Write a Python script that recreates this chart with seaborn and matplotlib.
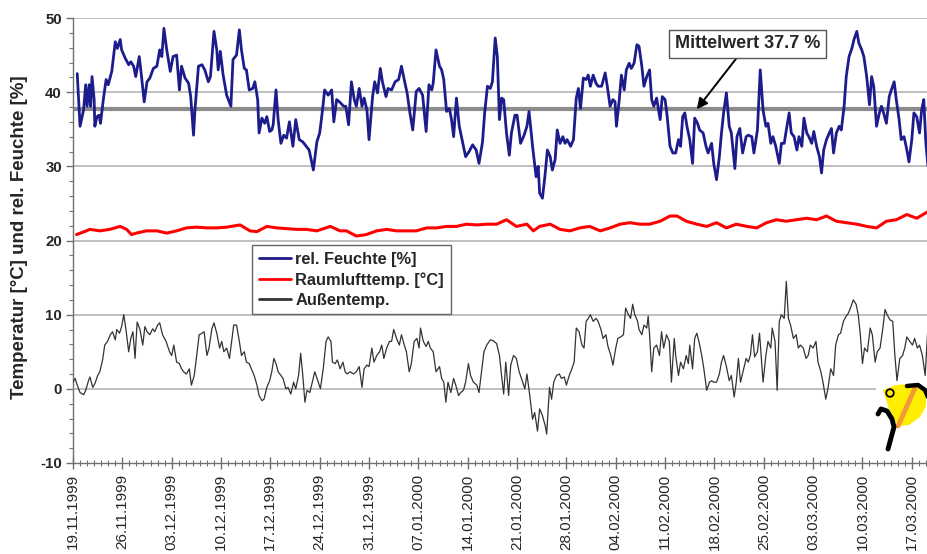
import numpy as np
import pandas as pd
import matplotlib
matplotlib.use("Agg")
import matplotlib.pyplot as plt
import matplotlib.dates as mdates
from matplotlib.ticker import MultipleLocator
from matplotlib.patches import Polygon, Circle, Rectangle
from matplotlib.lines import Line2D
from matplotlib.transforms import IdentityTransform
import seaborn as sns

# ---------------- data ----------------
start = pd.Timestamp("1999-11-19")
x_end_day = 121.3

feuchte_tag = [0.6, 1.0, 1.5, 1.8, 2.0, 2.3, 2.5, 2.7, 3.0, 3.1, 3.4, 3.7, 3.9, 4.3, 4.7, 5.0, 5.5, 6.0, 6.3, 6.7,
               6.9, 7.4, 7.9, 8.2, 8.6, 8.9, 9.4, 9.7, 10.1, 10.5, 10.9, 11.4, 11.9, 12.3, 12.6, 12.9, 13.3, 13.8, 14.2, 14.7,
               15.1, 15.4, 15.9, 16.4, 16.7, 17.1, 17.3, 17.8, 18.3, 18.7, 19.2, 19.5, 20.0, 20.4, 20.6, 20.9, 21.3, 21.8, 22.4, 22.7,
               23.2, 23.6, 23.9, 24.3, 24.6, 25.0, 25.5, 25.8, 26.2, 26.4, 26.8, 27.2, 27.5, 27.9, 28.2, 28.4, 28.8, 29.1, 29.5, 29.9,
               30.3, 30.7, 31.2, 31.6, 32.1, 32.6, 33.1, 33.5, 34.1, 34.6, 35.0, 35.4, 35.7, 36.2, 36.7, 37.0, 37.4, 37.8, 38.4, 38.7,
               39.1, 39.5, 39.9, 40.2, 40.6, 41.0, 41.3, 41.7, 42.0, 42.5, 42.8, 43.2, 43.6, 43.9, 44.4, 44.7, 45.2, 45.7, 46.2, 46.6,
               47.1, 47.4, 47.8, 48.2, 48.7, 49.1, 49.6, 50.1, 50.5, 50.9, 51.1, 51.5, 52.0, 52.3, 52.6, 53.0, 53.4, 53.7, 54.0, 54.4,
               54.8, 55.3, 55.7, 56.2, 56.7, 57.2, 57.6, 58.1, 58.4, 58.8, 59.2, 59.5, 59.9, 60.2, 60.5, 60.8, 61.1, 61.5, 61.9, 62.2,
               62.7, 63.0, 63.5, 64.0, 64.4, 64.7, 65.2, 65.7, 66.0, 66.2, 66.6, 67.0, 67.3, 67.7, 68.0, 68.4, 68.7, 69.1, 69.5, 69.8,
               70.1, 70.6, 71.0, 71.4, 71.7, 72.0, 72.4, 72.8, 73.1, 73.4, 73.8, 74.2, 74.5, 75.0, 75.5, 75.8, 76.2, 76.6, 76.9, 77.1,
               77.5, 77.8, 78.2, 78.5, 78.9, 79.2, 79.6, 80.0, 80.3, 80.7, 81.0, 81.4, 81.8, 82.1, 82.4, 82.8, 83.3, 83.6, 84.0, 84.3,
               84.7, 85.1, 85.5, 85.9, 86.2, 86.5, 86.8, 87.1, 87.5, 87.9, 88.2, 88.6, 88.9, 89.4, 89.8, 90.1, 90.6, 90.9, 91.3, 91.7,
               92.0, 92.3, 92.7, 93.1, 93.4, 93.9, 94.2, 94.6, 95.0, 95.5, 95.8, 96.3, 96.6, 97.1, 97.5, 97.9, 98.3, 98.6, 99.0, 99.3,
               99.7, 100.2, 100.5, 100.9, 101.2, 101.6, 101.9, 102.3, 102.7, 103.0, 103.4, 103.7, 104.1, 104.4, 104.8, 105.1, 105.5, 105.9, 106.2, 106.5,
               106.9, 107.3, 107.6, 107.9, 108.3, 108.7, 109.0, 109.4, 109.7, 110.1, 110.5, 110.8, 111.2, 111.5, 111.9, 112.2, 112.6, 113.0, 113.3, 113.6,
               114.0, 114.4, 114.7, 115.0, 115.4, 115.8, 116.1, 116.5, 116.8, 117.2, 117.5, 117.9, 118.3, 118.6, 119.0, 119.3, 119.7, 120.1, 120.4, 120.7,
               121.0, 121.3]
feuchte = [42.5, 35.4, 37.6, 41.0, 38.1, 41.0, 38.1, 42.1, 39.0, 35.4, 36.7, 36.9, 35.8, 39.0, 41.7, 41.0, 42.8, 46.8, 45.9, 47.1,
           45.7, 44.6, 43.7, 44.1, 43.5, 42.1, 44.8, 42.3, 38.7, 41.4, 41.9, 43.2, 43.5, 45.7, 44.8, 48.6, 45.7, 42.8, 44.8, 45.0,
           40.3, 43.5, 41.9, 41.2, 39.4, 34.2, 37.6, 43.5, 43.7, 43.0, 41.4, 42.1, 48.2, 45.7, 43.0, 45.5, 42.3, 39.6, 38.1, 44.4,
           45.0, 48.4, 45.7, 43.2, 43.0, 40.3, 40.5, 41.4, 39.0, 34.5, 36.5, 35.8, 36.7, 34.7, 34.9, 35.6, 40.3, 36.3, 33.1, 34.2,
           33.8, 36.0, 32.7, 36.3, 33.6, 33.3, 32.7, 32.2, 29.5, 33.3, 34.5, 37.6, 40.3, 39.6, 40.3, 36.0, 39.0, 38.7, 38.1, 38.1,
           35.6, 41.4, 39.0, 38.1, 40.5, 38.1, 39.2, 37.6, 33.6, 39.4, 41.4, 39.9, 43.2, 41.4, 39.4, 40.5, 40.3, 41.4, 41.7, 43.5,
           41.2, 39.9, 37.2, 34.9, 40.1, 40.5, 39.6, 34.7, 41.0, 40.3, 41.2, 45.7, 43.5, 43.0, 41.7, 37.4, 37.8, 36.3, 34.0, 39.2,
           35.4, 33.1, 31.3, 32.0, 32.9, 32.2, 30.4, 33.3, 37.2, 40.8, 40.5, 41.4, 47.3, 44.8, 36.3, 39.2, 39.0, 34.5, 31.5, 34.5,
           36.9, 36.9, 33.1, 34.2, 35.4, 37.4, 32.7, 28.6, 30.0, 26.4, 25.7, 29.1, 32.2, 31.3, 29.5, 30.9, 34.9, 33.1, 34.0, 33.1,
           33.6, 32.7, 33.6, 39.2, 40.5, 37.8, 41.9, 41.7, 42.3, 40.8, 42.3, 41.2, 40.8, 40.8, 42.6, 40.8, 38.1, 39.0, 38.7, 35.4,
           39.0, 42.3, 40.3, 43.0, 43.9, 43.2, 43.9, 46.4, 46.2, 43.5, 40.8, 42.1, 43.0, 39.0, 38.1, 39.2, 36.3, 39.4, 39.0, 36.7,
           32.7, 31.8, 31.8, 33.6, 32.7, 36.7, 37.2, 35.4, 33.6, 30.4, 36.5, 35.8, 34.9, 34.5, 32.7, 31.8, 33.1, 30.4, 28.2, 31.3,
           34.5, 37.2, 39.9, 35.4, 34.5, 29.7, 34.0, 35.1, 31.8, 34.0, 34.2, 34.0, 31.8, 34.9, 43.0, 37.6, 35.4, 35.8, 33.1, 34.0,
           32.7, 30.4, 33.1, 33.1, 34.9, 37.2, 34.5, 34.0, 32.2, 34.0, 32.7, 36.5, 34.5, 34.0, 33.1, 34.7, 32.7, 31.3, 29.1, 32.2,
           33.6, 34.5, 35.1, 31.8, 34.5, 35.4, 34.9, 38.1, 42.1, 44.8, 45.9, 47.1, 48.2, 46.6, 45.7, 44.8, 42.1, 38.3, 42.1, 40.8,
           35.4, 37.2, 38.1, 37.2, 35.8, 39.4, 40.3, 41.4, 39.0, 36.3, 33.6, 34.0, 32.2, 30.6, 33.6, 37.2, 36.7, 34.5, 37.6, 39.0,
           33.1, 30.0]

raum_tag = [0.5, 1.9, 2.4, 3.8, 5.2, 6.7, 7.6, 8.3, 9.0, 10.4, 11.9, 13.3, 14.7, 16.1, 17.5, 19.0, 20.4, 21.8, 23.7, 25.1,
            26.1, 27.5, 28.9, 30.3, 31.7, 33.1, 34.6, 36.5, 37.9, 38.8, 40.2, 41.6, 43.1, 44.5, 45.9, 47.3, 48.7, 50.2, 51.6, 53.0,
            54.4, 55.8, 57.3, 58.7, 60.1, 61.5, 62.9, 64.4, 65.3, 66.2, 67.7, 69.1, 70.5, 71.9, 73.3, 74.8, 76.2, 77.6, 79.0, 80.4,
            81.8, 83.3, 84.7, 85.7, 87.0, 88.5, 89.9, 91.3, 92.7, 94.1, 95.6, 97.0, 98.4, 99.8, 101.2, 102.6, 104.1, 105.5, 106.9, 108.3,
            109.7, 111.2, 112.6, 114.0, 115.4, 116.8, 118.3, 119.7, 121.3]
raum = [20.8, 21.3, 21.5, 21.3, 21.5, 21.9, 21.5, 20.8, 21.0, 21.3, 21.3, 21.0, 21.3, 21.7, 21.8, 21.7, 21.7, 21.8, 22.1, 21.3,
        21.2, 21.9, 21.7, 21.6, 21.5, 21.5, 21.3, 21.9, 21.3, 21.3, 20.6, 20.8, 21.3, 21.5, 21.3, 21.3, 21.3, 21.7, 21.7, 21.9,
        21.9, 22.2, 22.1, 22.2, 22.2, 22.8, 21.9, 22.2, 21.3, 21.9, 22.2, 21.5, 21.3, 21.7, 21.9, 21.3, 21.7, 22.2, 22.4, 22.2,
        22.2, 22.6, 23.3, 23.3, 22.6, 22.2, 21.9, 22.4, 21.7, 22.2, 21.9, 21.7, 22.4, 22.8, 22.6, 22.8, 23.0, 22.8, 23.3, 22.6,
        22.4, 22.2, 21.9, 21.7, 22.6, 22.8, 23.5, 23.0, 23.9]

aussen_tag = [0.0, 0.3, 0.6, 1.0, 1.5, 1.8, 2.2, 2.4, 2.8, 3.1, 3.5, 3.8, 4.2, 4.5, 4.9, 5.3, 5.6, 6.0, 6.2, 6.6,
              6.9, 7.2, 7.5, 7.9, 8.2, 8.5, 8.8, 9.1, 9.5, 9.9, 10.2, 10.5, 10.9, 11.3, 11.6, 12.0, 12.3, 12.7, 13.2, 13.7,
              14.0, 14.3, 14.7, 15.1, 15.4, 15.7, 16.1, 16.5, 16.8, 17.2, 17.5, 17.9, 18.3, 18.6, 19.0, 19.3, 19.7, 20.0, 20.4, 20.8,
              21.1, 21.4, 21.8, 22.2, 22.5, 22.8, 23.2, 23.6, 23.9, 24.3, 24.6, 25.0, 25.3, 25.7, 26.1, 26.4, 26.8, 27.1, 27.5, 27.9,
              28.2, 28.5, 28.8, 29.1, 29.5, 29.8, 30.2, 30.5, 30.9, 31.3, 31.6, 32.0, 32.3, 32.6, 32.9, 33.2, 33.6, 34.0, 34.3, 34.8,
              35.1, 35.5, 35.9, 36.2, 36.6, 36.8, 37.2, 37.5, 37.9, 38.3, 38.6, 38.9, 39.3, 39.8, 40.2, 40.6, 41.0, 41.3, 41.7, 42.0,
              42.4, 42.7, 43.1, 43.5, 43.8, 44.1, 44.5, 44.9, 45.2, 45.5, 45.9, 46.3, 46.6, 47.0, 47.3, 47.7, 48.0, 48.4, 48.8, 49.1,
              49.3, 49.7, 50.1, 50.4, 50.7, 51.1, 51.5, 52.0, 52.3, 52.6, 52.9, 53.2, 53.6, 54.0, 54.3, 54.7, 55.0, 55.4, 55.7, 56.1,
              56.4, 56.8, 57.3, 57.6, 58.0, 58.3, 58.7, 59.2, 59.6, 60.1, 60.5, 60.8, 61.1, 61.4, 61.8, 62.1, 62.5, 62.9, 63.3, 63.8,
              64.1, 64.4, 64.8, 65.2, 65.5, 65.9, 66.2, 66.6, 67.0, 67.2, 67.6, 67.9, 68.2, 68.6, 69.0, 69.3, 69.7, 70.0, 70.4, 70.7,
              71.1, 71.4, 71.8, 72.2, 72.5, 72.8, 73.1, 73.4, 73.8, 74.2, 74.5, 74.9, 75.2, 75.6, 75.9, 76.3, 76.6, 77.0, 77.3, 77.7,
              78.1, 78.4, 78.8, 79.1, 79.4, 79.7, 80.1, 80.3, 80.7, 81.0, 81.4, 81.6, 81.8, 82.1, 82.4, 82.8, 83.2, 83.5, 83.8, 84.2,
              84.6, 84.9, 85.3, 85.5, 85.9, 86.2, 86.6, 87.0, 87.3, 87.5, 87.9, 88.2, 88.5, 88.8, 89.2, 89.5, 89.9, 90.3, 90.6, 90.9,
              91.3, 91.7, 92.0, 92.3, 92.7, 93.1, 93.4, 93.8, 94.1, 94.4, 94.7, 95.1, 95.5, 95.8, 96.1, 96.4, 96.7, 97.1, 97.4, 97.7,
              97.9, 98.3, 98.6, 99.0, 99.2, 99.6, 99.9, 100.2, 100.5, 100.9, 101.2, 101.5, 101.8, 102.2, 102.6, 102.9, 103.2, 103.6, 104.0, 104.3,
              104.6, 105.0, 105.4, 105.7, 106.1, 106.4, 106.8, 107.1, 107.5, 107.9, 108.2, 108.6, 108.9, 109.3, 109.7, 110.0, 110.3, 110.7, 111.1, 111.4,
              111.7, 112.0, 112.3, 112.7, 113.1, 113.4, 113.8, 114.1, 114.5, 114.9, 115.2, 115.5, 115.9, 116.3, 116.6, 116.9, 117.3, 117.7, 118.0, 118.3,
              118.7, 119.1, 119.4, 119.8, 120.1, 120.5, 120.9, 121.3]
aussen = [0.9, 1.4, 0.5, -0.5, -0.8, -0.2, 1.1, 1.6, 0.2, 0.7, 1.8, 2.3, 3.9, 5.9, 6.4, 7.3, 7.7, 6.6, 8.0, 7.5,
          8.4, 10.0, 8.1, 5.0, 6.8, 7.7, 4.1, 9.0, 8.0, 5.9, 8.4, 7.7, 7.3, 8.1, 7.7, 8.6, 8.9, 7.3, 6.4, 5.0,
          4.5, 5.9, 3.6, 3.4, 2.7, 2.3, 2.0, 2.7, 0.5, 1.8, 4.1, 7.3, 7.5, 7.7, 4.5, 5.5, 8.1, 8.9, 7.5, 5.5,
          6.4, 5.0, 5.5, 4.1, 6.4, 8.6, 8.6, 6.4, 4.5, 5.0, 3.6, 3.4, 2.7, 1.8, 0.5, -0.9, -1.6, -1.4, 0.2, 1.1,
          2.3, 4.1, 3.4, 2.3, 1.8, 1.4, 0.0, 0.2, -0.7, 0.9, 0.0, 1.8, 4.8, 1.8, -1.8, -0.2, -0.5, 1.1, 2.3, 0.9,
          0.0, 2.7, 6.4, 7.0, 6.4, 3.6, 3.4, 3.9, 2.7, 3.6, 2.3, 2.0, 2.3, 2.0, 2.3, 3.0, 0.2, 2.7, 3.2, 3.0,
          5.5, 3.6, 4.5, 5.0, 5.9, 4.1, 5.5, 6.4, 6.4, 8.0, 6.8, 5.9, 7.3, 5.9, 5.0, 2.3, 3.4, 6.4, 6.8, 5.5,
          8.2, 6.4, 5.7, 6.4, 5.5, 5.0, 2.3, 3.0, 1.4, 0.9, -1.8, 0.9, -0.5, 1.4, 0.5, -0.9, -0.5, -0.2, 0.9, 3.4,
          1.8, 0.9, 0.5, -0.5, 2.7, 5.0, 5.9, 6.6, 6.5, 6.1, 4.5, 1.8, -0.7, 3.6, -0.9, 3.2, 4.5, 4.1, 2.3, 0.9,
          0.0, 2.0, -0.9, -4.1, -3.2, -5.7, -2.7, -3.6, -5.0, -6.1, 0.2, -1.4, 0.9, 1.8, 2.0, 1.4, 1.6, 0.5, 1.8, 2.5,
          3.6, 8.2, 7.7, 5.9, 5.5, 9.1, 9.5, 10.0, 9.1, 9.5, 9.1, 8.0, 6.8, 7.3, 5.7, 4.5, 3.2, 5.5, 6.8, 7.0,
          7.3, 10.9, 10.0, 9.5, 11.4, 10.0, 9.1, 8.0, 7.3, 8.6, 8.2, 9.8, 7.3, 2.3, 5.5, 5.9, 4.5, 7.7, 5.5, 7.3,
          6.4, 0.9, 6.8, 4.5, 1.8, 3.6, 2.7, 4.5, 3.4, 5.9, 2.7, 6.8, 7.5, 6.4, 4.5, 2.7, -0.2, 0.9, 1.1, 0.9,
          0.9, 2.0, 3.6, 4.5, 3.0, 1.1, 1.8, -1.1, 0.9, 4.1, 0.9, 2.5, 4.1, 3.6, 4.5, 7.3, 4.3, 5.0, 7.5, 3.6,
          0.9, 4.5, 6.4, 5.5, 8.2, 6.4, -0.2, 9.1, 10.0, 9.5, 14.5, 9.5, 8.6, 6.8, 7.3, 5.5, 5.9, 5.5, 4.1, 4.5,
          5.9, 5.5, 6.4, 3.6, 2.3, 0.9, -1.4, 0.0, 2.7, 1.8, 5.9, 7.3, 7.5, 9.1, 9.8, 10.2, 10.9, 12.0, 11.4, 10.0,
          7.3, 3.4, 5.5, 5.0, 8.2, 7.3, 3.6, 5.0, 5.5, 8.2, 10.7, 10.0, 9.3, 9.1, 4.5, 1.1, 4.1, 4.5, 5.5, 7.0,
          6.4, 5.9, 6.8, 5.5, 5.9, 4.5, 1.8, 8.6]

mittelwert = 37.7
serien = ["rel. Feuchte [%]", "Raumlufttemp. [°C]", "Außentemp."]
farben = ["#1c1c8c", "#ff0000", "#333333"]
y_ticks = [-10, 0, 10, 20, 30, 40, 50]

# ---------------- plot ----------------
sns.set_theme(style="ticks")
plt.rcParams['font.family'] = ['Liberation Sans', 'DejaVu Sans']
plt.rcParams['axes.unicode_minus'] = False

W, H = 928, 554
fig = plt.figure(figsize=(W / 100, H / 100), dpi=100)
ax = fig.add_axes([73 / W, 1 - 463 / H, 1 - 73 / W, (463 - 18) / H])


def to_dates(days):
    return start + pd.to_timedelta(np.asarray(days), unit="D")


for tage, werte, name, col, lw in [(feuchte_tag, feuchte, serien[0], farben[0], 2.0),
                                   (raum_tag, raum, serien[1], farben[1], 2.2),
                                   (aussen_tag, aussen, serien[2], farben[2], 0.9)]:
    df = pd.DataFrame({"Datum": to_dates(tage), "Wert": werte})
    sns.lineplot(data=df, x="Datum", y="Wert", ax=ax, color=col, lw=lw, label=name,
                 estimator=None, sort=False, zorder=3)

# grid and mean line
for yv in y_ticks[1:]:
    ax.axhline(yv, color="#b4b4b4", lw=1.2, zorder=1)
ax.axhline(mittelwert, color="#8c8c8c", lw=3.0, zorder=2)

ax.set_xlim(start, start + pd.Timedelta(days=x_end_day))
ax.set_ylim(-10, 50)
ax.set_yticks(y_ticks)
ax.yaxis.set_minor_locator(MultipleLocator(2))
ax.xaxis.set_major_locator(mdates.WeekdayLocator(byweekday=mdates.FR))
ax.xaxis.set_minor_locator(mdates.DayLocator())
ax.xaxis.set_major_formatter(mdates.DateFormatter("%d.%m.%Y"))

for s in ["top", "right"]:
    ax.spines[s].set_visible(False)
for s in ["left", "bottom"]:
    ax.spines[s].set_color("#707070")
    ax.spines[s].set_linewidth(1.0)

ax.tick_params(axis="y", which="major", direction="out", length=5, width=1, color="#707070",
               labelsize=10.8, pad=3)
ax.tick_params(axis="y", which="minor", direction="out", length=3, width=0.8, color="#707070", left=True)
ax.tick_params(axis="x", which="major", direction="inout", length=9, width=1, color="#707070",
               labelsize=11, pad=3)
ax.tick_params(axis="x", which="minor", direction="inout", length=4, width=0.8, color="#707070", bottom=True)
for lab in ax.get_yticklabels():
    lab.set_fontweight("bold")
for lab in ax.get_xticklabels():
    lab.set_rotation(90)
    lab.set_va("top")
    lab.set_ha("center")

ax.set_xlabel("")
ax.set_ylabel("Temperatur [°C] und rel. Feuchte [%]", fontsize=13.5, fontweight="bold")
ax.yaxis.set_label_coords(-0.053, 0.508)

leg = ax.legend(loc="upper left", bbox_to_anchor=(252 / W, 1 - 245 / H), bbox_transform=fig.transFigure,
                borderaxespad=0, frameon=True, fancybox=False, prop={"size": 11.8, "weight": "bold"},
                handlelength=1.95, handletextpad=0.3, borderpad=0.4, labelspacing=0.33)
leg.get_frame().set_edgecolor("#666666")
leg.get_frame().set_linewidth(1.0)
leg.get_frame().set_facecolor("white")
leg.get_frame().set_alpha(1.0)
for line in leg.get_lines():
    line.set_linewidth(2.0)

# annotation for mean value
ax.annotate("Mittelwert 37.7 %", xy=(start + pd.Timedelta(days=88.5), mittelwert),
            xytext=(start + pd.Timedelta(days=95.7), 46.5), textcoords="data",
            ha="center", va="center", fontsize=13, fontweight="bold", zorder=6,
            bbox=dict(boxstyle="square,pad=0.3", fc="white", ec="#555555", lw=1.0),
            arrowprops=dict(arrowstyle="-|>", color="black", lw=1.4, mutation_scale=16,
                            shrinkA=0, shrinkB=0))

# small logo in the lower right corner (decoration, drawn in figure pixels, y from top)
pix = IdentityTransform()


def Q(x, y):
    return (x, H - y)


def logo_line(pts, **kw):
    xs = [Q(x, y)[0] for x, y in pts]
    ys = [Q(x, y)[1] for x, y in pts]
    fig.add_artist(Line2D(xs, ys, transform=pix, zorder=11, **kw))


fig.add_artist(Rectangle(Q(876, 452), 52, 70, fc="white", ec="none", transform=pix, zorder=10))
fig.add_artist(Polygon([Q(883, 390), Q(896, 385), Q(910, 384), Q(920, 387), Q(926, 394), Q(926, 406),
                        Q(920, 417), Q(909, 425), Q(898, 426), Q(890, 412)],
                       closed=True, fc="#ffee00", ec="none", transform=pix, zorder=10.5))
logo_line([(898, 426), (915, 388)], color="#f29a38", lw=3.5)
logo_line([(907, 386), (918, 385), (925, 390), (928, 397)], color="black", lw=3.2, solid_capstyle="round")
logo_line([(878, 414), (881, 409), (887, 411), (892, 419), (894, 427), (888, 449)],
          color="black", lw=3.5, solid_capstyle="round")
fig.add_artist(Circle(Q(890, 393), 3.8, fc="#ffee00", ec="black", lw=1.3, transform=pix, zorder=12))

fig.savefig("out.png", dpi=100)
